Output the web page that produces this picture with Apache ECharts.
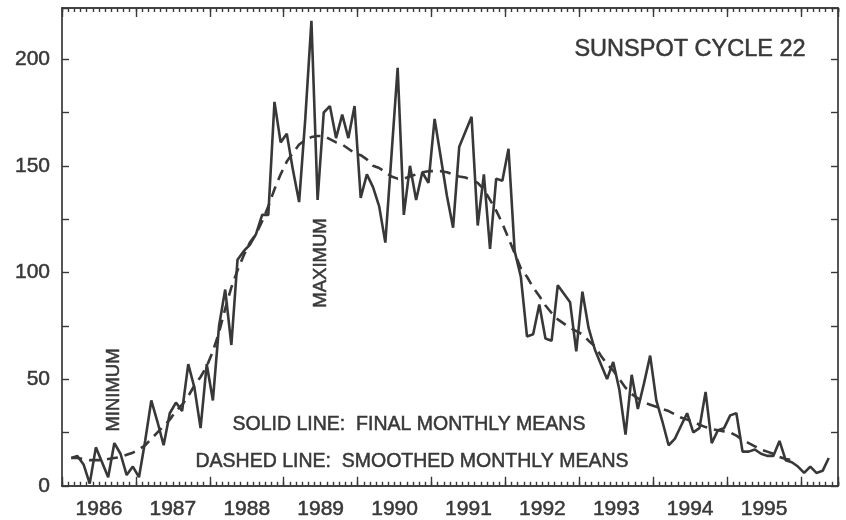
<!DOCTYPE html>
<html><head><meta charset="utf-8">
<script src="https://cdn.jsdelivr.net/npm/echarts@6/dist/echarts.min.js"></script>
<style>html,body{margin:0;padding:0;background:#fff}#c{width:846px;height:520px}</style>
</head><body><div id="c"></div>
<script>
// ---- data ----
const yearLabels = [1986, 1987, 1988, 1989, 1990, 1991, 1992, 1993, 1994, 1995];
const yTickLabels = [0, 50, 100, 150, 200];
const startYear = 1986;
const firstMonthIndex = 1; // first plotted month = Feb 1986
const finalMonthlyMeans = [
  13, 14, 10, 1, 18, 11, 4, 20, 15, 5,
  9, 4, 21, 40, 30, 19, 34, 39, 35, 57,
  46, 27, 57, 40, 75, 92, 66, 106, 110, 113,
  118, 127, 127, 180, 161, 165, 148, 133, 172, 218,
  134, 175, 178, 163, 174, 163, 178, 135, 146, 140,
  131, 114, 155, 196, 127, 150, 134, 147, 142, 172,
  154, 136, 121, 159, 166, 173, 122, 146, 111, 144,
  143, 158, 110, 98, 70, 71, 85, 69, 68, 94,
  90, 86, 63, 91, 74, 64, 57, 50, 58, 45,
  24, 52, 36, 48, 61, 40, 30, 19, 22, 28,
  34, 25, 27, 44, 20, 26, 27, 33, 34, 16,
  16, 17, 15, 14, 14, 21, 12, 11, 9, 6,
  9, 6, 7, 13
];
const smoothedMonthlyMeans = [
  13, 13, 12.5, 12, 12, 12, 12.5, 13, 13.5, 14.5,
  15.5, 17, 19, 22, 25, 28, 31, 35, 38, 42,
  47, 51, 56, 63, 72, 83, 93, 101, 108, 114,
  118, 124, 131, 139, 146, 152, 156, 160, 162, 163.5,
  164, 164, 162.5, 161, 160, 158, 156, 155, 153, 150,
  149, 147, 145, 144, 144, 145, 146, 147, 147.5, 147.5,
  147.5, 147, 146, 145, 144.5, 143.5, 142, 139, 134, 129,
  123, 116, 109, 102, 98, 93, 89, 84.5, 81, 78,
  76, 74, 72.5, 71, 68, 65.5, 61, 57, 54, 50,
  46, 43, 41, 39, 38, 37, 36, 35, 33.5, 32,
  31, 30, 28.6, 27.5, 26.5, 26, 25.5, 25, 23.5, 21.5,
  20, 18.5, 17, 16, 15, 13.5, 12.5, 12
];
const titleText = 'SUNSPOT CYCLE 22';
const solidNote = 'SOLID LINE:  FINAL MONTHLY MEANS';
const dashedNote = 'DASHED LINE:  SMOOTHED MONTHLY MEANS';
const maxNote = 'MAXIMUM';
const minNote = 'MINIMUM';

// ---- build ----
function toPairs(arr) {
  return arr.map((v, i) => [startYear + (firstMonthIndex + i + 0.5) / 12, v]);
}
const INK = '#383838';
const FONT = "'Liberation Sans', Arial, sans-serif";
const chart = echarts.init(document.getElementById('c'), null, {renderer: 'canvas'});

function xAx(pos, interval, tickLen, labels) {
  return {
    type: 'value', position: pos, min: 1986, max: 1996.5, interval: interval, offset: 0,
    axisLine: {show: true, onZero: false, lineStyle: {color: INK, width: 1.7}},
    axisTick: {show: true, inside: true, length: tickLen, lineStyle: {color: INK, width: 1.4}},
    axisLabel: labels ? {
      show: true, customValues: yearLabels.map(y => y + 0.5),
      formatter: v => String(Math.floor(v)), fontSize: 21, color: INK, fontFamily: FONT, margin: 13,
      textBorderColor: INK, textBorderWidth: 0.5
    } : {show: false},
    splitLine: {show: false}
  };
}
function yAx(pos, labels) {
  return {
    type: 'value', position: pos, min: 0, max: 224, interval: 25, offset: 0,
    axisLine: {show: true, onZero: false, lineStyle: {color: INK, width: 1.7}},
    axisTick: {show: true, inside: true, length: 7, lineStyle: {color: INK, width: 1.4}},
    axisLabel: labels ? {
      show: true, formatter: v => (yTickLabels.indexOf(v) >= 0 ? String(v) : ''),
      fontSize: 21, color: INK, fontFamily: FONT, margin: 12,
      textBorderColor: INK, textBorderWidth: 0.5
    } : {show: false},
    splitLine: {show: false}
  };
}
function note(text, x, y, size, rot) {
  return {
    type: 'text', x: x, y: y, rotation: rot || 0,
    style: {text: text, font: size + 'px ' + FONT, fill: INK, stroke: INK, lineWidth: 0.5,
            align: 'center', verticalAlign: 'middle'}
  };
}

chart.setOption({
  animation: false,
  backgroundColor: '#ffffff',
  grid: {left: 62, right: 8, top: 8, bottom: 33, containLabel: false},
  xAxis: [
    xAx('bottom', 1, 9, true),
    xAx('bottom', 1 / 12, 4, false),
    xAx('top', 1, 9, false),
    xAx('top', 1 / 12, 4, false)
  ],
  yAxis: [yAx('left', true), yAx('right', false)],
  series: [
    {
      type: 'line', xAxisIndex: 0, yAxisIndex: 0, data: toPairs(smoothedMonthlyMeans),
      showSymbol: false, smooth: false,
      lineStyle: {color: INK, width: 2.6, type: [11, 7]}, z: 3
    },
    {
      type: 'line', xAxisIndex: 0, yAxisIndex: 0, data: toPairs(finalMonthlyMeans),
      showSymbol: false, smooth: false,
      lineStyle: {color: INK, width: 2.6}, z: 4
    }
  ],
  graphic: [
    note(titleText, 690, 50, 23.5),
    note(solidNote, 409, 425, 19.5),
    note(dashedNote, 412, 462, 19.5),
    note(maxNote, 321, 263, 18.5, Math.PI / 2),
    note(minNote, 113.5, 390, 18.5, Math.PI / 2)
  ]
});
</script>
</body></html>
